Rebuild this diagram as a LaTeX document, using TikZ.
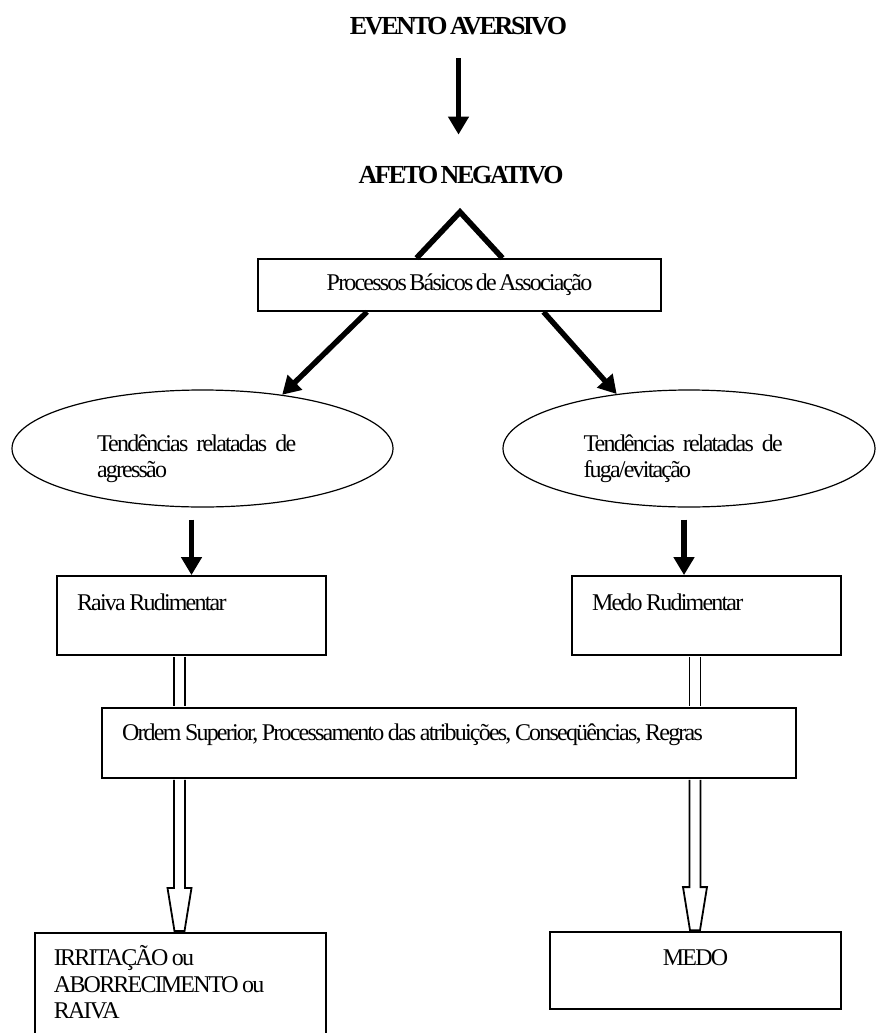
\documentclass[tikz,border=0pt]{standalone}
\usepackage{fontspec}
\setmainfont{Liberation Serif}[LetterSpace=-7.5, WordSpace=0.6]
\usetikzlibrary{arrows.meta,shapes.geometric,calc}

% hollow arrow pointing down, from #1 to #2
\newcommand{\hollowdown}[2]{%
  \draw[line width=0.9pt, fill=white]
    ($(#1)+(-5.5,0.9)$) -- ($(#2)+(-5.5,-44)$) -- ($(#2)+(-12,-44)$) -- ($(#2)+(-5,-0.9)$)
    -- ($(#2)+(5,-0.9)$) -- ($(#2)+(12,-44)$) -- ($(#2)+(5.5,-44)$) -- ($(#1)+(5.5,0.9)$);}

\begin{document}
\begin{tikzpicture}[x=0.5pt,y=-0.5pt,
  every node/.style={font=\fontsize{12pt}{13.25pt}\selectfont},
  title/.style={font=\fontsize{13pt}{15pt}\selectfont\bfseries\addfontfeatures{LetterSpace=-9}, inner sep=0pt, text height=9pt, text depth=0pt},
  box/.style={draw, rectangle, line width=0.9pt, fill=white},
  leftbox/.style={box, align=left, inner xsep=10pt, inner ysep=0pt, execute at begin node={\spaceskip=0.15em\relax}},
  tend/.style={draw, ellipse, line width=0.6pt, text width=105.5pt, align=left, text height=10pt, text depth=7.5pt, minimum width=190.5pt, minimum height=58.5pt},
  fatarrow/.style={line width=2.7pt, -{Triangle[width=10pt,length=9pt]}},
  vline/.style={line width=2.8pt},
  dline/.style={double, line width=0.9pt, double distance=4.6pt, shorten <=0.45pt, shorten >=0.45pt}]
\useasboundingbox (0,0) rectangle (875,1033);

\node[title] (evento) at (458.5,25) {EVENTO AVERSIVO};
\node[title] (afeto) at (461,174) {AFETO NEGATIVO};
\coordinate (apex) at (460,212);
\node[box, minimum width=201.5pt, minimum height=26pt] (proc) at (459.5,285) {Processos Básicos de Associação};

\node[tend] (agr) at (202.5,448.5) {\makebox[105.5pt][s]{Tendências relatadas de}\\agressão};
\node[tend, minimum width=186pt] (fug) at (689,448.5) {\makebox[105.5pt][s]{Tendências relatadas de}\\fuga/evitação};

\node[leftbox, text width=114.5pt, text height=17pt, text depth=22.5pt] (raiva) at (191.5,615.5) {Raiva Rudimentar};
\node[leftbox, text width=114.5pt, text height=17pt, text depth=22.5pt] (medorud) at (706.5,615.5) {Medo Rudimentar};

\node[leftbox, text width=327pt, text height=16pt, text depth=19pt] (ordem) at (449,743) {Ordem Superior, Processamento das atribuições, Conseqüências, Regras};

\node[leftbox, anchor=north, inner xsep=9.5pt, text width=126.5pt, text height=16.5pt, text depth=40pt] (irr) at (180.5,932) {IRRITAÇÃO ou\\ABORRECIMENTO ou\\RAIVA};
\node[box, align=center, inner xsep=10pt, inner ysep=0pt, text width=125.5pt, text height=16.5pt, text depth=22pt] (medo) at (695.5,970.5) {MEDO};

\coordinate (lft) at (179.5,700);
\coordinate (rgt) at (695,700);

\draw[fatarrow, shorten <=12pt, shorten >=15pt] (evento.south) -- (evento.south |- afeto.north);
\draw[vline] ($(proc.north)+(-43,0)$) -- (apex) -- ($(proc.north)+(43,0)$);
\draw[fatarrow] ($(proc.south)+(-92.5,0)$) -- (agr.34);
\draw[fatarrow] ($(proc.south)+(84,0)$) -- (fug.143);
\draw[fatarrow, shorten <=6pt] (raiva.north |- agr.south) -- (raiva.north);
\draw[fatarrow, shorten <=6pt] ($(fug.south)+(-5,0)$) -- ($(fug.south |- medorud.north)+(-5,0)$);

\draw[dline] (lft |- raiva.south) -- (lft |- ordem.north);
\draw[dline] (rgt |- medorud.south) -- (rgt |- ordem.north);
\hollowdown{lft |- ordem.south}{lft |- irr.north}
\hollowdown{rgt |- ordem.south}{rgt |- medo.north}
\end{tikzpicture}
\end{document}
